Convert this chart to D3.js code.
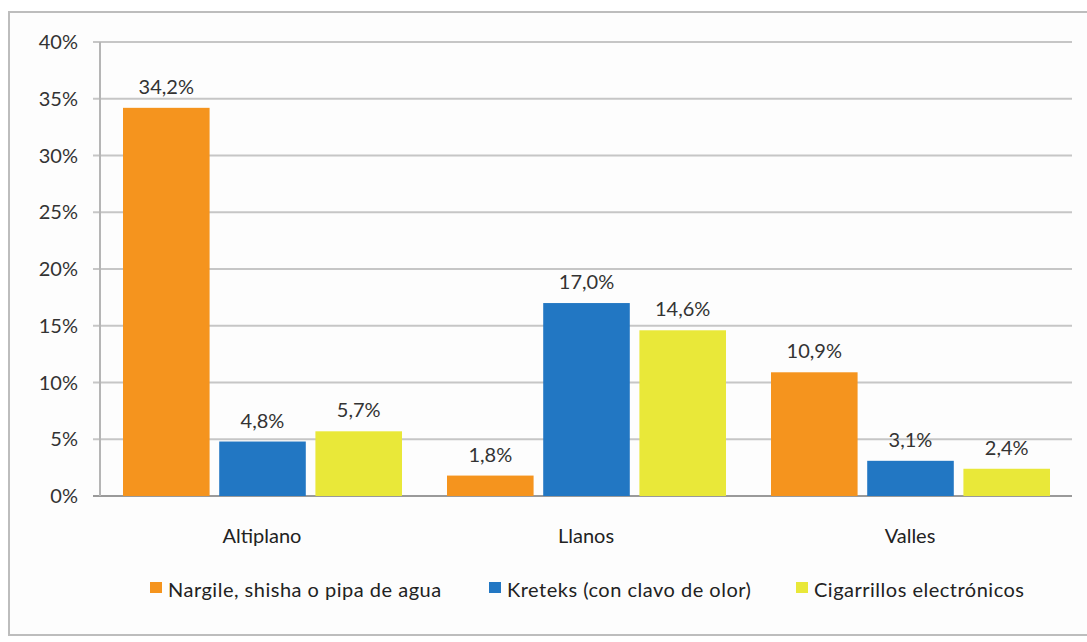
<!DOCTYPE html>
<html>
<head>
<meta charset="utf-8">
<script src="https://cdn.jsdelivr.net/npm/d3@7"></script>
<style>
  body { margin: 0; background: #ffffff; }
  svg { display: block; font-family: Lato, "Open Sans", sans-serif; }
</style>
</head>
<body>
<div id="chart"></div>
<script>
// categories and series
var regions = ["Altiplano", "Llanos", "Valles"];
var seriesNames = ["Nargile, shisha o pipa de agua", "Kreteks (con clavo de olor)", "Cigarrillos electrónicos"];
var nargile = [34.2, 1.8, 10.9];
var kreteks = [4.8, 17.0, 3.1];
var cigarrillos = [5.7, 14.6, 2.4];
var yTicks = [0, 5, 10, 15, 20, 25, 30, 35, 40];
var colors = ["#f5941e", "#2277c3", "#e9e839"];

var width = 1087, height = 642;
var margin = {top: 42, left: 100, right: 15, bottom: 146};
var fontSize = "20px";

var svg = d3.select("#chart").append("svg")
    .attr("width", width)
    .attr("height", height);

// outer frame of the chart
svg.append("rect")
    .attr("x", 9).attr("y", 12)
    .attr("width", 1090).attr("height", 623)
    .style("fill", "#fdfdfd")
    .style("stroke", "#bdbdbd")
    .style("stroke-width", 2);

var x = d3.scaleBand()
    .domain(regions)
    .range([margin.left, width - margin.right]);

var xInner = d3.scaleBand()
    .domain(d3.range(seriesNames.length))
    .range([23, x.bandwidth() - 22])
    .paddingInner(0.1);

var y = d3.scaleLinear()
    .domain([0, 40])
    .range([height - margin.bottom, margin.top]);

// grid lines
svg.append("g").selectAll("line").data(yTicks)
    .enter().append("line")
    .attr("x1", margin.left - 7)
    .attr("x2", width - margin.right)
    .attr("y1", function(d) { return y(d); })
    .attr("y2", function(d) { return y(d); })
    .style("stroke", function(d) { return d === 0 ? "#9a9a9a" : "#c6c6c6"; })
    .style("stroke-width", 2);

// y axis line
svg.append("line")
    .attr("x1", margin.left).attr("x2", margin.left)
    .attr("y1", y(40)).attr("y2", y(0))
    .style("stroke", "#b5b5b5")
    .style("stroke-width", 2);

// y tick labels
svg.append("g").selectAll("text").data(yTicks)
    .enter().append("text")
    .attr("x", margin.left - 22)
    .attr("y", function(d) { return y(d); })
    .attr("dy", "0.35em")
    .attr("text-anchor", "end")
    .style("font-size", fontSize)
    .style("fill", "#333")
    .text(function(d) { return d + "%"; });

var series = [nargile, kreteks, cigarrillos];
var fmt = function(v) { return v.toFixed(1).replace(".", ",") + "%"; };

var groups = svg.append("g").selectAll("g").data(regions)
    .enter().append("g")
    .attr("transform", function(d) { return "translate(" + x(d) + ",0)"; });

groups.selectAll("rect")
    .data(function(d, i) { return series.map(function(s, k) { return {k: k, v: s[i]}; }); })
    .enter().append("rect")
    .attr("x", function(d) { return xInner(d.k); })
    .attr("width", xInner.bandwidth())
    .attr("y", function(d) { return y(d.v); })
    .attr("height", function(d) { return y(0) - y(d.v); })
    .style("fill", function(d) { return colors[d.k]; });

groups.selectAll("text")
    .data(function(d, i) { return series.map(function(s, k) { return {k: k, v: s[i]}; }); })
    .enter().append("text")
    .attr("x", function(d) { return xInner(d.k) + xInner.bandwidth() / 2; })
    .attr("y", function(d) { return y(d.v) - 14; })
    .attr("text-anchor", "middle")
    .style("font-size", fontSize)
    .style("fill", "#333")
    .text(function(d) { return fmt(d.v); });

// category labels
svg.append("g").selectAll("text").data(regions)
    .enter().append("text")
    .attr("x", function(d) { return x(d) + x.bandwidth() / 2; })
    .attr("y", 543)
    .attr("text-anchor", "middle")
    .style("font-size", fontSize)
    .style("fill", "#222")
    .text(function(d) { return d; });

// legend
var legendX = [150, 489, 796];
var legend = svg.append("g").selectAll("g").data(seriesNames)
    .enter().append("g")
    .attr("transform", function(d, i) { return "translate(" + legendX[i] + ",582)"; });

legend.append("rect")
    .attr("width", 12).attr("height", 11)
    .style("fill", function(d, i) { return colors[i]; });

legend.append("text")
    .attr("x", 18).attr("y", 8)
    .attr("dy", "0.35em")
    .style("font-size", fontSize)
    .style("letter-spacing", "0.5px")
    .style("fill", "#222")
    .text(function(d) { return d; });
</script>
</body>
</html>
